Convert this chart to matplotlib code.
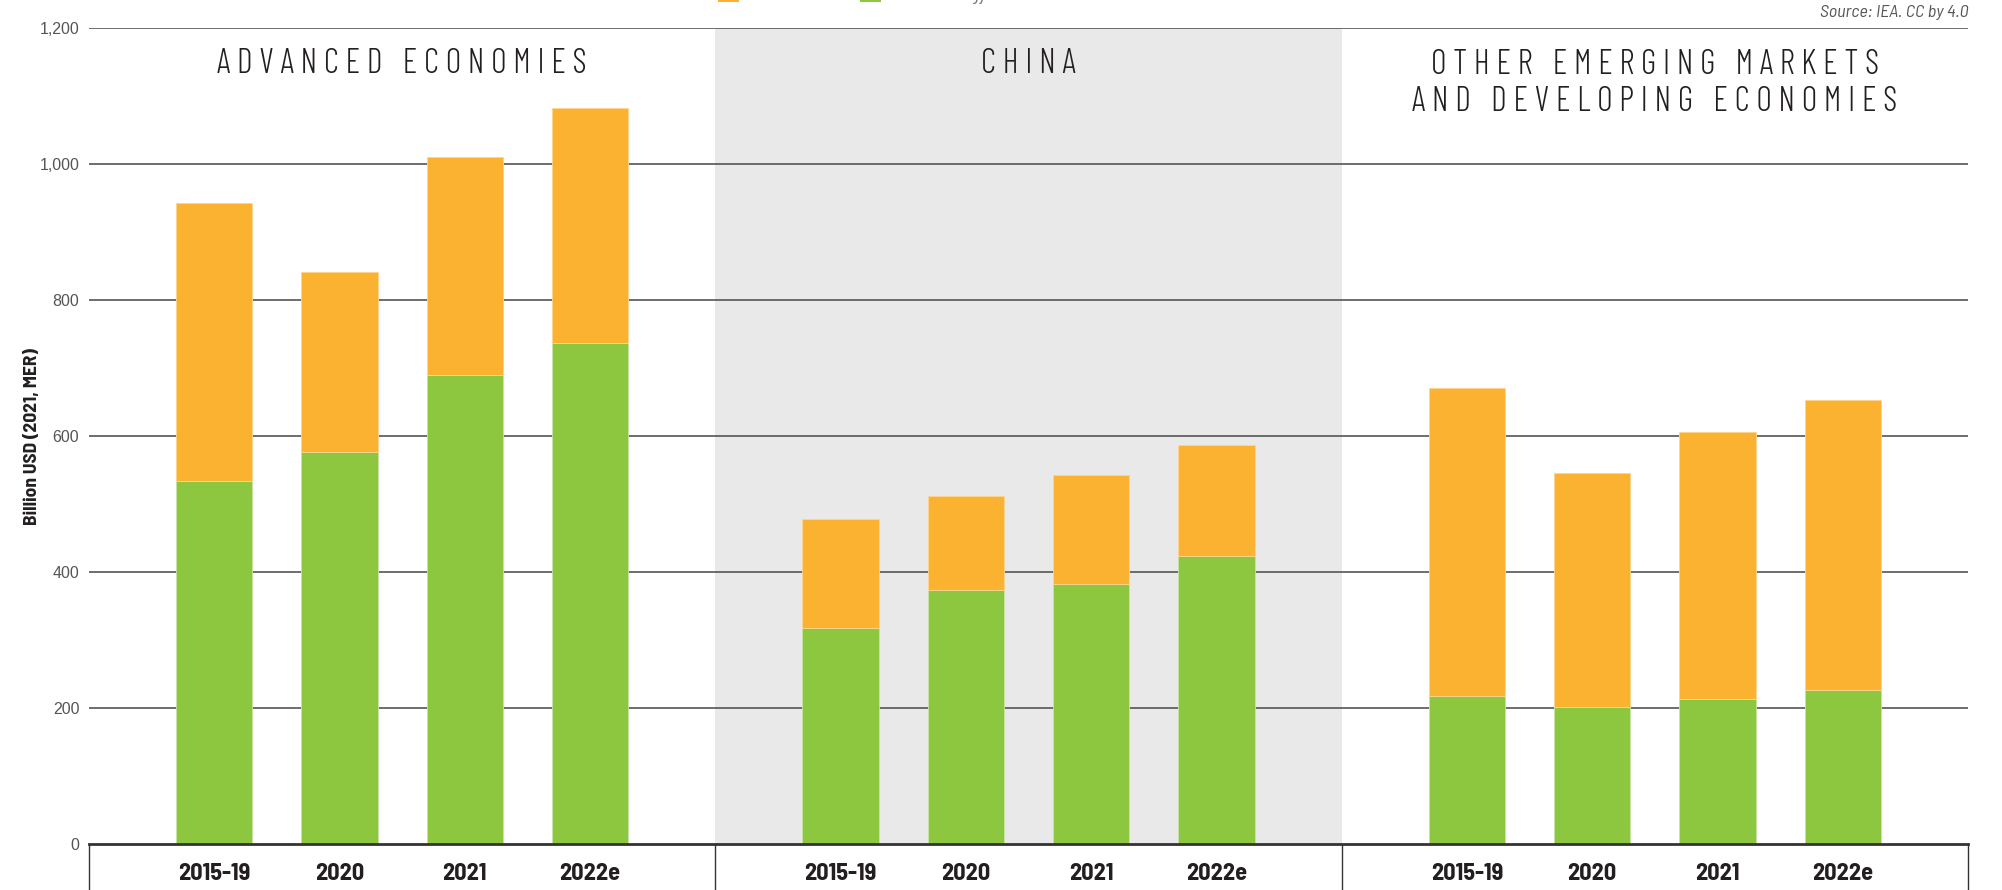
import matplotlib
matplotlib.use("Agg")
import matplotlib.pyplot as plt
from matplotlib.patches import Patch
from matplotlib.lines import Line2D

# ---------------- data ----------------
regions = ["ADVANCED ECONOMIES", "CHINA", "OTHER EMERGING MARKETS\nAND DEVELOPING ECONOMIES"]
periods = ["2015-19", "2020", "2021", "2022e"]
series_names = ["Fossil fuels", "Clean energy"]
clean_adv = [534, 576, 689, 737]
fossil_adv = [408, 265, 321, 345]
clean_china = [318, 373, 382, 423]
fossil_china = [160, 139, 160, 164]
clean_other = [218, 201, 213, 226]
fossil_other = [452, 345, 393, 427]
y_ticks = [0, 200, 400, 600, 800, 1000, 1200]
y_label = "Billion USD (2021, MER)"
source = "Source: IEA. CC by 4.0"

clean = [clean_adv, clean_china, clean_other]
fossil = [fossil_adv, fossil_china, fossil_other]

# ---------------- style ----------------
ORANGE = "#FBB231"
GREEN = "#8DC63F"
SHADE = "#E9E9E9"
GRID = "#555555"
COND = "Barlow Condensed"
SEMI = "Barlow Semi Condensed"

W, H = 2002, 890
AX_TOP, AX_BOT = 28, 844
fig = plt.figure(figsize=(W / 100, H / 100), dpi=100)
ax = fig.add_axes([89 / W, 1 - AX_BOT / H, (1968 - 89) / W, (AX_BOT - AX_TOP) / H])

n_per = len(periods)
span = n_per + 1
ax.set_xlim(0, span * len(regions))
ax.set_ylim(0, 1200)
px_per_unit = (AX_BOT - AX_TOP) / 1200.0

# shaded China panel
ax.axvspan(span * 1, span * 2, color=SHADE, zorder=0, lw=0)

# grid lines
for t in y_ticks[1:]:
    ax.axhline(t, color=GRID, lw=1.2, zorder=1)

xs, labels = [], []
for i, reg in enumerate(regions):
    for j, p in enumerate(periods):
        x = span * i + j + 1
        xs.append(x)
        labels.append(p)
        ax.bar(x, clean[i][j], width=0.61, color=GREEN, edgecolor="#c9e3a6", lw=0.6, zorder=2)
        ax.bar(x, fossil[i][j], bottom=clean[i][j], width=0.61, color=ORANGE,
               edgecolor="#fdd690", lw=0.6, zorder=2)
    lines = reg.split("\n")
    spaced = "\n".join("   ".join(" ".join(w) for w in line.split(" ")) for line in lines)
    # baseline of the last line (first line baseline at 73 px, line pitch 38 px)
    base_px = 73 + 38 * (len(lines) - 1)
    y_text = 1200 - (base_px - AX_TOP) / px_per_unit
    ax.text(span * i + span / 2, y_text, spaced, ha="center", va="baseline", ma="center",
            family=COND, fontweight=300, fontsize=24.5, color="#231f20", linespacing=1.21, zorder=3)

# axis spines
for s in ["top", "right", "left"]:
    ax.spines[s].set_visible(False)
ax.spines["bottom"].set_color("#333333")
ax.spines["bottom"].set_linewidth(2.0)
ax.spines["bottom"].set_zorder(4)

ax.set_xticks(xs)
ax.set_xticklabels(labels, family=SEMI, fontweight="bold", fontsize=17.5, color="#231f20")
ax.tick_params(axis="x", length=0, pad=14)
ax.set_yticks(y_ticks)
ax.set_yticklabels([f"{v:,}" for v in y_ticks], family="Liberation Sans", fontsize=11.5, color="#555555")
ax.tick_params(axis="y", length=0, pad=7)

# separators below the axis
for k in range(len(regions) + 1):
    ax.add_line(Line2D([span * k, span * k], [0, -0.06], transform=ax.get_xaxis_transform(),
                       color="#333333", lw=1.0, clip_on=False, zorder=4))

fig.text(33 / W, 1 - 437 / H, y_label, rotation=90, ha="center", va="center",
         family=SEMI, fontweight="bold", fontsize=14, color="#231f20")

fig.text(1968 / W, 1 - 17 / H, source, ha="right", va="baseline", family=SEMI,
         style="italic", fontsize=13, color="#555555")

handles = [Patch(facecolor=ORANGE, edgecolor="none"), Patch(facecolor=GREEN, edgecolor="none")]
fig.legend(handles, series_names, loc="lower left", bbox_to_anchor=(718 / W, 1 - 3.75 / H),
           bbox_transform=fig.transFigure, frameon=False, ncol=2, borderpad=0,
           handlelength=1.08, handleheight=1.08, handletextpad=1.0, columnspacing=1.4,
           prop={"family": COND, "size": 14}, labelcolor="#777777", borderaxespad=0)

fig.savefig("out.png", dpi=100)
